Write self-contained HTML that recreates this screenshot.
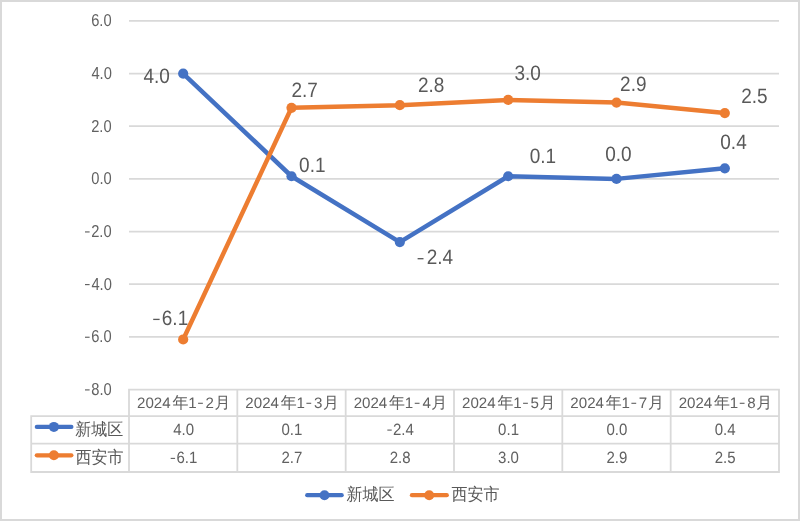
<!DOCTYPE html><html><head><meta charset="utf-8"><style>html,body{margin:0;padding:0;background:#fff;overflow:hidden}svg{display:block;will-change:transform}text{font-family:"Liberation Sans",sans-serif;text-rendering:geometricPrecision}</style></head><body>
<svg width="800" height="521" viewBox="0 0 800 521">
<rect x="1" y="1" width="798" height="519" fill="none" stroke="#d9d9d9" stroke-width="2"/>
<line x1="129.0" x2="779.0" y1="20.91" y2="20.91" stroke="#d9d9d9" stroke-width="1.8"/>
<line x1="129.0" x2="779.0" y1="73.57" y2="73.57" stroke="#d9d9d9" stroke-width="1.8"/>
<line x1="129.0" x2="779.0" y1="126.22" y2="126.22" stroke="#d9d9d9" stroke-width="1.8"/>
<line x1="129.0" x2="779.0" y1="178.88" y2="178.88" stroke="#d9d9d9" stroke-width="1.8"/>
<line x1="129.0" x2="779.0" y1="231.54" y2="231.54" stroke="#d9d9d9" stroke-width="1.8"/>
<line x1="129.0" x2="779.0" y1="284.19" y2="284.19" stroke="#d9d9d9" stroke-width="1.8"/>
<line x1="129.0" x2="779.0" y1="336.85" y2="336.85" stroke="#d9d9d9" stroke-width="1.8"/>
<text transform="translate(91.16,26.31) scale(1,1.18)" font-size="14.7" fill="#626262">6.0</text>
<text transform="translate(91.38,78.96) scale(1,1.18)" font-size="14.7" fill="#626262">4.0</text>
<text transform="translate(91.16,131.62) scale(1,1.18)" font-size="14.7" fill="#626262">2.0</text>
<text transform="translate(91.23,184.28) scale(1,1.18)" font-size="14.7" fill="#626262">0.0</text>
<text transform="translate(91.16,236.93) scale(1,1.18)" font-size="14.7" fill="#626262">2.0</text>
<rect x="85.00" y="231.36" width="4.60" height="1.15" fill="#626262"/>
<text transform="translate(91.38,289.59) scale(1,1.18)" font-size="14.7" fill="#626262">4.0</text>
<rect x="85.00" y="284.02" width="4.60" height="1.15" fill="#626262"/>
<text transform="translate(91.16,342.24) scale(1,1.18)" font-size="14.7" fill="#626262">6.0</text>
<rect x="85.00" y="336.67" width="4.60" height="1.15" fill="#626262"/>
<text transform="translate(91.23,394.90) scale(1,1.18)" font-size="14.7" fill="#626262">8.0</text>
<rect x="85.00" y="389.33" width="4.60" height="1.15" fill="#626262"/>
<g stroke="#d9d9d9" stroke-width="1.8" fill="none">
<path d="M129.0 472.0 V389.6 H779.0 V472.0 H31.2 V416.1 H779.0 M31.2 443.7 H779.0"/>
<line x1="237.33" x2="237.33" y1="389.6" y2="472.0"/>
<line x1="345.67" x2="345.67" y1="389.6" y2="472.0"/>
<line x1="454.00" x2="454.00" y1="389.6" y2="472.0"/>
<line x1="562.33" x2="562.33" y1="389.6" y2="472.0"/>
<line x1="670.67" x2="670.67" y1="389.6" y2="472.0"/>
</g>
<text transform="translate(0,408.20) scale(1,1.0)" fill="#616161"><tspan x="137.01" font-size="15.1">2024</tspan><tspan x="172.41" font-size="16.0">年</tspan><tspan x="188.16" font-size="15.1">1</tspan><tspan x="205.41" font-size="15.1">2</tspan><tspan x="214.57" font-size="16.0">月</tspan></text>
<rect x="198.07" y="402.75" width="4.80" height="1.1" fill="#616161"/>
<text transform="translate(0,408.20) scale(1,1.0)" fill="#616161"><tspan x="245.35" font-size="15.1">2024</tspan><tspan x="280.74" font-size="16.0">年</tspan><tspan x="296.49" font-size="15.1">1</tspan><tspan x="313.90" font-size="15.1">3</tspan><tspan x="322.90" font-size="16.0">月</tspan></text>
<rect x="306.40" y="402.75" width="4.80" height="1.1" fill="#616161"/>
<text transform="translate(0,408.20) scale(1,1.0)" fill="#616161"><tspan x="353.68" font-size="15.1">2024</tspan><tspan x="389.07" font-size="16.0">年</tspan><tspan x="404.83" font-size="15.1">1</tspan><tspan x="422.53" font-size="15.1">4</tspan><tspan x="431.23" font-size="16.0">月</tspan></text>
<rect x="414.73" y="402.75" width="4.80" height="1.1" fill="#616161"/>
<text transform="translate(0,408.20) scale(1,1.0)" fill="#616161"><tspan x="462.01" font-size="15.1">2024</tspan><tspan x="497.41" font-size="16.0">年</tspan><tspan x="513.16" font-size="15.1">1</tspan><tspan x="530.56" font-size="15.1">5</tspan><tspan x="539.57" font-size="16.0">月</tspan></text>
<rect x="523.07" y="402.75" width="4.80" height="1.1" fill="#616161"/>
<text transform="translate(0,408.20) scale(1,1.0)" fill="#616161"><tspan x="570.35" font-size="15.1">2024</tspan><tspan x="605.74" font-size="16.0">年</tspan><tspan x="621.49" font-size="15.1">1</tspan><tspan x="638.75" font-size="15.1">7</tspan><tspan x="647.90" font-size="16.0">月</tspan></text>
<rect x="631.40" y="402.75" width="4.80" height="1.1" fill="#616161"/>
<text transform="translate(0,408.20) scale(1,1.0)" fill="#616161"><tspan x="678.68" font-size="15.1">2024</tspan><tspan x="714.07" font-size="16.0">年</tspan><tspan x="729.83" font-size="15.1">1</tspan><tspan x="747.23" font-size="15.1">8</tspan><tspan x="756.23" font-size="16.0">月</tspan></text>
<rect x="739.73" y="402.75" width="4.80" height="1.1" fill="#616161"/>
<text transform="translate(173.19,434.64) scale(1,1.09)" font-size="15.0" fill="#616161">4.0</text>
<text transform="translate(176.39,462.94) scale(1,1.09)" font-size="15.0" fill="#616161">6.1</text>
<rect x="170.67" y="457.85" width="4.40" height="1.1" fill="#616161"/>
<text transform="translate(281.45,434.64) scale(1,1.09)" font-size="15.0" fill="#616161">0.1</text>
<text transform="translate(281.38,463.10) scale(1,1.09)" font-size="15.0" fill="#616161">2.7</text>
<text transform="translate(392.91,434.80) scale(1,1.09)" font-size="15.0" fill="#616161">2.4</text>
<rect x="387.33" y="429.55" width="4.40" height="1.1" fill="#616161"/>
<text transform="translate(389.63,462.94) scale(1,1.09)" font-size="15.0" fill="#616161">2.8</text>
<text transform="translate(498.12,434.64) scale(1,1.09)" font-size="15.0" fill="#616161">0.1</text>
<text transform="translate(498.04,462.94) scale(1,1.09)" font-size="15.0" fill="#616161">3.0</text>
<text transform="translate(606.38,434.64) scale(1,1.09)" font-size="15.0" fill="#616161">0.0</text>
<text transform="translate(606.38,462.94) scale(1,1.09)" font-size="15.0" fill="#616161">2.9</text>
<text transform="translate(714.63,434.64) scale(1,1.09)" font-size="15.0" fill="#616161">0.4</text>
<text transform="translate(714.63,462.94) scale(1,1.09)" font-size="15.0" fill="#616161">2.5</text>
<line x1="36.8" x2="71.4" y1="426.9" y2="426.9" stroke="#4472C4" stroke-width="4.2" stroke-linecap="round"/>
<circle cx="53.9" cy="426.9" r="5" fill="#4472C4"/>
<text transform="translate(75.21,434.95) scale(1,1.07)" font-size="16.0" fill="#595959">新城区</text>
<line x1="36.8" x2="71.4" y1="455.3" y2="455.3" stroke="#ED7D31" stroke-width="4.2" stroke-linecap="round"/>
<circle cx="53.9" cy="455.3" r="5" fill="#ED7D31"/>
<text transform="translate(75.41,462.60) scale(1,1.07)" font-size="16.0" fill="#595959">西安市</text>
<line x1="307.2" x2="341.7" y1="495.2" y2="495.2" stroke="#4472C4" stroke-width="4.2" stroke-linecap="round"/>
<circle cx="324.5" cy="495.2" r="5" fill="#4472C4"/>
<text transform="translate(346.41,500.05) scale(1,1.07)" font-size="16.0" fill="#595959">新城区</text>
<line x1="411.9" x2="446.8" y1="495.2" y2="495.2" stroke="#ED7D31" stroke-width="4.2" stroke-linecap="round"/>
<circle cx="429.2" cy="495.2" r="5" fill="#ED7D31"/>
<text transform="translate(451.46,499.50) scale(1,1.07)" font-size="16.0" fill="#595959">西安市</text>
<polyline points="183.17,73.57 291.50,176.25 399.83,242.07 508.17,176.25 616.50,178.88 724.83,168.35" fill="none" stroke="#4472C4" stroke-width="4.5" stroke-linejoin="round" stroke-linecap="round"/>
<circle cx="183.17" cy="73.57" r="5.1" fill="#4472C4"/>
<circle cx="291.50" cy="176.25" r="5.1" fill="#4472C4"/>
<circle cx="399.83" cy="242.07" r="5.1" fill="#4472C4"/>
<circle cx="508.17" cy="176.25" r="5.1" fill="#4472C4"/>
<circle cx="616.50" cy="178.88" r="5.1" fill="#4472C4"/>
<circle cx="724.83" cy="168.35" r="5.1" fill="#4472C4"/>
<polyline points="183.17,339.48 291.50,107.79 399.83,105.16 508.17,99.90 616.50,102.53 724.83,113.06" fill="none" stroke="#ED7D31" stroke-width="4.5" stroke-linejoin="round" stroke-linecap="round"/>
<circle cx="183.17" cy="339.48" r="5.1" fill="#ED7D31"/>
<circle cx="291.50" cy="107.79" r="5.1" fill="#ED7D31"/>
<circle cx="399.83" cy="105.16" r="5.1" fill="#ED7D31"/>
<circle cx="508.17" cy="99.90" r="5.1" fill="#ED7D31"/>
<circle cx="616.50" cy="102.53" r="5.1" fill="#ED7D31"/>
<circle cx="724.83" cy="113.06" r="5.1" fill="#ED7D31"/>
<text transform="translate(143.38,82.59) scale(1,1.1)" font-size="19.0" fill="#595959">4.0</text>
<text transform="translate(299.09,171.79) scale(1,1.1)" font-size="19.0" fill="#595959">0.1</text>
<text transform="translate(529.64,162.59) scale(1,1.1)" font-size="19.0" fill="#595959">0.1</text>
<text transform="translate(605.14,160.89) scale(1,1.1)" font-size="19.0" fill="#595959">0.0</text>
<text transform="translate(720.28,148.79) scale(1,1.1)" font-size="19.0" fill="#595959">0.4</text>
<text transform="translate(291.40,97.20) scale(1,1.1)" font-size="19.0" fill="#595959">2.7</text>
<text transform="translate(418.02,91.79) scale(1,1.1)" font-size="19.0" fill="#595959">2.8</text>
<text transform="translate(514.42,79.54) scale(1,1.1)" font-size="19.0" fill="#595959">3.0</text>
<text transform="translate(620.12,90.89) scale(1,1.1)" font-size="19.0" fill="#595959">2.9</text>
<text transform="translate(741.20,102.89) scale(1,1.1)" font-size="19.0" fill="#595959">2.5</text>
<text transform="translate(426.71,264.05) scale(1,1.1)" font-size="19.0" fill="#595959">2.4</text>
<rect x="417.60" y="258.05" width="5.90" height="1.3" fill="#595959"/>
<text transform="translate(161.79,324.59) scale(1,1.1)" font-size="19.0" fill="#595959">6.1</text>
<rect x="153.20" y="318.75" width="6.40" height="1.3" fill="#595959"/>
</svg></body></html>
